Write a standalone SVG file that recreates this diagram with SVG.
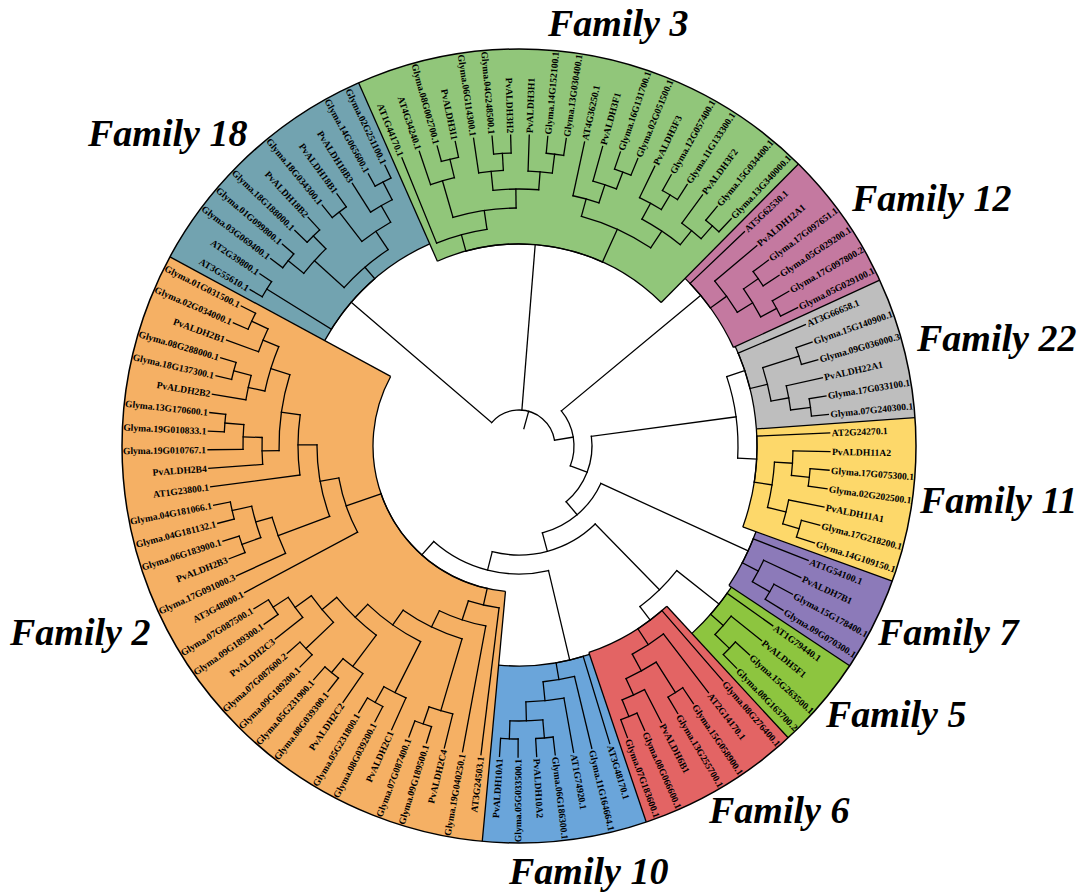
<svg xmlns="http://www.w3.org/2000/svg" width="1078" height="893" viewBox="0 0 1078 893">
<defs>
<style>
.sec circle{fill:none}
.bd{fill:none;stroke:#000;stroke-width:1.3}
.cn{fill:none;stroke:#000;stroke-width:1.3;stroke-linecap:square}
.lb{font-family:"Liberation Serif","Times New Roman",serif;font-size:9.6px;font-weight:bold;fill:#000}
.lb .n{text-anchor:end}
.t{font-family:"Liberation Serif","Times New Roman",serif;font-size:38px;font-weight:bold;font-style:italic;fill:#000}
</style>
<clipPath id="cl"><circle r="397"/></clipPath>
</defs>
<rect width="1078" height="893" fill="#fff"/>
<g transform="translate(519,446)">
<g id="sectors" class="sec">
<circle id="sector-11" r="317.5" stroke="#FDD86A" stroke-width="159" pathLength="360" stroke-dasharray="24.1 360" transform="rotate(-4.11)"/>
<circle id="sector-7" r="324.5" stroke="#8C7AB9" stroke-width="145" pathLength="360" stroke-dasharray="13.8 360" transform="rotate(19.89)"/>
<circle id="sector-5" r="326" stroke="#8DC53F" stroke-width="142" pathLength="360" stroke-dasharray="13.8 360" transform="rotate(33.6)"/>
<circle id="sector-6" r="307.5" stroke="#E36464" stroke-width="179" pathLength="360" stroke-dasharray="24.1 360" transform="rotate(47.31)"/>
<circle id="sector-10" r="308.5" stroke="#6AA5DA" stroke-width="177" pathLength="360" stroke-dasharray="24.1 360" transform="rotate(71.31)"/>
<circle id="sector-2" r="271.5" stroke="#F5B064" stroke-width="251" pathLength="360" stroke-dasharray="113.25 360" transform="rotate(95.31)"/>
<circle id="sector-18" r="309" stroke="#72A3B0" stroke-width="176" pathLength="360" stroke-dasharray="37.8 360" transform="rotate(208.46)"/>
<circle id="sector-3" r="299.5" stroke="#91C67A" stroke-width="195" pathLength="360" stroke-dasharray="68.65 360" transform="rotate(246.17)"/>
<circle id="sector-12" r="316.5" stroke="#C479A0" stroke-width="161" pathLength="360" stroke-dasharray="20.65 360" transform="rotate(314.74)"/>
<circle id="sector-22" r="317.5" stroke="#BEBEBE" stroke-width="159" pathLength="360" stroke-dasharray="20.65 360" transform="rotate(335.31)"/>
</g>
<g id="sector-borders" class="bd">
<circle r="238" pathLength="360" stroke-dasharray="24 360" transform="rotate(-4.11)"/>
<circle r="252" pathLength="360" stroke-dasharray="13.71 360" transform="rotate(19.89)"/>
<circle r="255" pathLength="360" stroke-dasharray="13.71 360" transform="rotate(33.6)"/>
<circle r="218" pathLength="360" stroke-dasharray="24 360" transform="rotate(47.31)"/>
<circle r="220" pathLength="360" stroke-dasharray="24 360" transform="rotate(71.31)"/>
<circle r="146" pathLength="360" stroke-dasharray="113.15 360" transform="rotate(95.31)"/>
<circle r="221" pathLength="360" stroke-dasharray="37.71 360" transform="rotate(208.46)"/>
<circle r="202" pathLength="360" stroke-dasharray="68.57 360" transform="rotate(246.17)"/>
<circle r="236" pathLength="360" stroke-dasharray="20.57 360" transform="rotate(314.74)"/>
<circle r="238" pathLength="360" stroke-dasharray="20.57 360" transform="rotate(335.31)"/>
<circle r="397" stroke-width="1.5"/>
<path d="M238 0H397" transform="rotate(-4.11)"/>
<path d="M238 0H397" transform="rotate(19.89)"/>
<path d="M252 0H397" transform="rotate(33.6)"/>
<path d="M218 0H397" transform="rotate(47.31)"/>
<path d="M218 0H397" transform="rotate(71.31)"/>
<path d="M146 0H397" transform="rotate(95.31)"/>
<path d="M146 0H397" transform="rotate(208.46)"/>
<path d="M202 0H397" transform="rotate(246.17)"/>
<path d="M202 0H397" transform="rotate(314.74)"/>
<path d="M236 0H397" transform="rotate(335.31)"/>
</g>
<g id="connectors" class="cn">
<path d="M18 0H36" transform="rotate(285.6)"/>
<circle r="36" pathLength="360" stroke-dasharray="130.13 360" transform="rotate(220.57)"/>
<path d="M36 0H221" transform="rotate(220.57)"/>
<path d="M36 0H202" transform="rotate(274.6)"/>
<path d="M36 0H55" transform="rotate(350.7)"/>
<circle r="55" pathLength="360" stroke-dasharray="60.73 360" transform="rotate(-39.67)"/>
<path d="M55 0H236" transform="rotate(-39.67)"/>
<path d="M55 0H73" transform="rotate(21.06)"/>
<circle r="73" pathLength="360" stroke-dasharray="57.42 360" transform="rotate(-7.65)"/>
<path d="M73 0H219" transform="rotate(-7.65)"/>
<circle r="219" pathLength="360" stroke-dasharray="21.64 360" transform="rotate(-18.47)"/>
<path d="M219 0H238" transform="rotate(-18.47)"/>
<path d="M219 0H238" transform="rotate(3.17)"/>
<path d="M73 0H90" transform="rotate(49.77)"/>
<circle r="90" pathLength="360" stroke-dasharray="50.33 360" transform="rotate(24.6)"/>
<path d="M90 0H252" transform="rotate(24.6)"/>
<path d="M90 0H109" transform="rotate(74.93)"/>
<circle r="109" pathLength="360" stroke-dasharray="58.56 360" transform="rotate(45.65)"/>
<path d="M109 0H201" transform="rotate(45.65)"/>
<circle r="201" pathLength="360" stroke-dasharray="14.7 360" transform="rotate(38.3)"/>
<path d="M201 0H255" transform="rotate(38.3)"/>
<path d="M201 0H218" transform="rotate(53)"/>
<path d="M109 0H128" transform="rotate(104.21)"/>
<circle r="128" pathLength="360" stroke-dasharray="55.08 360" transform="rotate(76.67)"/>
<path d="M128 0H220" transform="rotate(76.67)"/>
<path d="M128 0H146" transform="rotate(131.75)"/>
<!-- family 11 -->
<circle r="238" pathLength="360" stroke-dasharray="11.14 360" transform="rotate(-2.4)"/>
<path d="M238 0H256" transform="rotate(8.74)"/>
<circle r="256" pathLength="360" stroke-dasharray="10.28 360" transform="rotate(3.6)"/>
<path d="M256 0H274" transform="rotate(3.6)"/>
<circle r="274" pathLength="360" stroke-dasharray="5.15 360" transform="rotate(1.03)"/>
<path d="M274 0H292" transform="rotate(6.17)"/>
<circle r="292" pathLength="360" stroke-dasharray="3.43 360" transform="rotate(4.46)"/>
<path d="M256 0H275" transform="rotate(13.88)"/>
<circle r="275" pathLength="360" stroke-dasharray="5.15 360" transform="rotate(11.31)"/>
<path d="M275 0H292" transform="rotate(16.45)"/>
<circle r="292" pathLength="360" stroke-dasharray="3.43 360" transform="rotate(14.74)"/>
<path d="M238 0H311" transform="rotate(-2.4)"/>
<path d="M274 0H311" transform="rotate(1.03)"/>
<path d="M292 0H311" transform="rotate(4.46)"/>
<path d="M292 0H311" transform="rotate(7.89)"/>
<path d="M275 0H311" transform="rotate(11.31)"/>
<path d="M292 0H311" transform="rotate(14.74)"/>
<path d="M292 0H311" transform="rotate(18.17)"/>
<!-- family 7 -->
<circle r="252" pathLength="360" stroke-dasharray="6 360" transform="rotate(21.6)"/>
<path d="M252 0H270" transform="rotate(27.6)"/>
<circle r="270" pathLength="360" stroke-dasharray="5.14 360" transform="rotate(25.03)"/>
<path d="M270 0H290" transform="rotate(30.17)"/>
<circle r="290" pathLength="360" stroke-dasharray="3.43 360" transform="rotate(28.46)"/>
<path d="M252 0H311" transform="rotate(21.6)"/>
<path d="M270 0H311" transform="rotate(25.03)"/>
<path d="M290 0H311" transform="rotate(28.46)"/>
<path d="M290 0H311" transform="rotate(31.89)"/>
<!-- family 5 -->
<circle r="255" pathLength="360" stroke-dasharray="5.99 360" transform="rotate(35.31)"/>
<path d="M255 0H272" transform="rotate(41.3)"/>
<circle r="272" pathLength="360" stroke-dasharray="5.15 360" transform="rotate(38.74)"/>
<path d="M272 0H292" transform="rotate(43.89)"/>
<circle r="292" pathLength="360" stroke-dasharray="3.43 360" transform="rotate(42.17)"/>
<path d="M255 0H311" transform="rotate(35.31)"/>
<path d="M272 0H311" transform="rotate(38.74)"/>
<path d="M292 0H311" transform="rotate(42.17)"/>
<path d="M292 0H311" transform="rotate(45.6)"/>
<!-- family 6 -->
<circle r="218" pathLength="360" stroke-dasharray="7.93 360" transform="rotate(49.03)"/>
<path d="M218 0H237" transform="rotate(56.96)"/>
<circle r="237" pathLength="360" stroke-dasharray="8.99 360" transform="rotate(52.46)"/>
<path d="M237 0H256" transform="rotate(61.45)"/>
<circle r="256" pathLength="360" stroke-dasharray="7.7 360" transform="rotate(57.6)"/>
<path d="M256 0H292" transform="rotate(57.6)"/>
<circle r="292" pathLength="360" stroke-dasharray="3.42 360" transform="rotate(55.89)"/>
<path d="M256 0H274" transform="rotate(65.3)"/>
<circle r="274" pathLength="360" stroke-dasharray="5.15 360" transform="rotate(62.74)"/>
<path d="M274 0H292" transform="rotate(67.89)"/>
<circle r="292" pathLength="360" stroke-dasharray="3.43 360" transform="rotate(66.17)"/>
<path d="M218 0H311" transform="rotate(49.03)"/>
<path d="M237 0H311" transform="rotate(52.46)"/>
<path d="M292 0H311" transform="rotate(55.89)"/>
<path d="M292 0H311" transform="rotate(59.31)"/>
<path d="M274 0H311" transform="rotate(62.74)"/>
<path d="M292 0H311" transform="rotate(66.17)"/>
<path d="M292 0H311" transform="rotate(69.6)"/>
<!-- family 10 -->
<circle r="220" pathLength="360" stroke-dasharray="7.27 360" transform="rotate(73.03)"/>
<path d="M220 0H237" transform="rotate(80.3)"/>
<circle r="237" pathLength="360" stroke-dasharray="7.71 360" transform="rotate(76.46)"/>
<path d="M237 0H256" transform="rotate(84.17)"/>
<circle r="256" pathLength="360" stroke-dasharray="8.57 360" transform="rotate(79.89)"/>
<path d="M256 0H275" transform="rotate(88.46)"/>
<circle r="275" pathLength="360" stroke-dasharray="6.86 360" transform="rotate(85.03)"/>
<path d="M275 0H293" transform="rotate(85.03)"/>
<circle r="293" pathLength="360" stroke-dasharray="3.43 360" transform="rotate(83.31)"/>
<path d="M275 0H293" transform="rotate(91.89)"/>
<circle r="293" pathLength="360" stroke-dasharray="3.43 360" transform="rotate(90.17)"/>
<path d="M220 0H311" transform="rotate(73.03)"/>
<path d="M237 0H311" transform="rotate(76.46)"/>
<path d="M256 0H311" transform="rotate(79.89)"/>
<path d="M293 0H311" transform="rotate(83.31)"/>
<path d="M293 0H311" transform="rotate(86.74)"/>
<path d="M293 0H311" transform="rotate(90.17)"/>
<path d="M293 0H311" transform="rotate(93.6)"/>
<!-- family 2 -->
<circle r="146" pathLength="360" stroke-dasharray="58.3 360" transform="rotate(102.6)"/>
<path d="M146 0H163" transform="rotate(102.6)"/>
<circle r="163" pathLength="360" stroke-dasharray="11.07 360" transform="rotate(97.03)"/>
<path d="M163 0H183" transform="rotate(108.1)"/>
<circle r="183" pathLength="360" stroke-dasharray="15.34 360" transform="rotate(100.46)"/>
<path d="M183 0H201" transform="rotate(115.8)"/>
<circle r="201" pathLength="360" stroke-dasharray="18.74 360" transform="rotate(106.46)"/>
<path d="M201 0H276" transform="rotate(106.46)"/>
<circle r="276" pathLength="360" stroke-dasharray="5.14 360" transform="rotate(103.89)"/>
<path d="M276 0H294" transform="rotate(109.03)"/>
<circle r="294" pathLength="360" stroke-dasharray="3.43 360" transform="rotate(107.31)"/>
<path d="M201 0H219" transform="rotate(125.2)"/>
<circle r="219" pathLength="360" stroke-dasharray="17 360" transform="rotate(116.7)"/>
<path d="M219 0H276" transform="rotate(116.7)"/>
<circle r="276" pathLength="360" stroke-dasharray="5.13 360" transform="rotate(114.17)"/>
<path d="M276 0H294" transform="rotate(119.3)"/>
<circle r="294" pathLength="360" stroke-dasharray="3.43 360" transform="rotate(117.6)"/>
<path d="M219 0H237" transform="rotate(133.7)"/>
<circle r="237" pathLength="360" stroke-dasharray="13.27 360" transform="rotate(127.03)"/>
<path d="M237 0H276" transform="rotate(127.03)"/>
<circle r="276" pathLength="360" stroke-dasharray="5.14 360" transform="rotate(124.46)"/>
<path d="M276 0H294" transform="rotate(129.6)"/>
<circle r="294" pathLength="360" stroke-dasharray="3.42 360" transform="rotate(127.89)"/>
<path d="M237 0H256" transform="rotate(140.3)"/>
<circle r="256" pathLength="360" stroke-dasharray="7.74 360" transform="rotate(136.46)"/>
<path d="M256 0H294" transform="rotate(136.46)"/>
<circle r="294" pathLength="360" stroke-dasharray="3.43 360" transform="rotate(134.74)"/>
<path d="M256 0H276" transform="rotate(144.2)"/>
<circle r="276" pathLength="360" stroke-dasharray="5.15 360" transform="rotate(141.6)"/>
<path d="M276 0H294" transform="rotate(146.75)"/>
<circle r="294" pathLength="360" stroke-dasharray="3.43 360" transform="rotate(145.03)"/>
<path d="M146 0H183" transform="rotate(160.9)"/>
<circle r="183" pathLength="360" stroke-dasharray="18.06 360" transform="rotate(151.89)"/>
<path d="M183 0H202" transform="rotate(169.95)"/>
<circle r="202" pathLength="360" stroke-dasharray="20.7 360" transform="rotate(159.6)"/>
<path d="M202 0H257" transform="rotate(159.6)"/>
<circle r="257" pathLength="360" stroke-dasharray="8.59 360" transform="rotate(155.31)"/>
<path d="M257 0H274" transform="rotate(163.9)"/>
<circle r="274" pathLength="360" stroke-dasharray="6.85 360" transform="rotate(160.46)"/>
<path d="M274 0H294" transform="rotate(160.46)"/>
<circle r="294" pathLength="360" stroke-dasharray="3.43 360" transform="rotate(158.74)"/>
<path d="M274 0H294" transform="rotate(167.31)"/>
<circle r="294" pathLength="360" stroke-dasharray="3.43 360" transform="rotate(165.6)"/>
<path d="M202 0H221" transform="rotate(180.3)"/>
<circle r="221" pathLength="360" stroke-dasharray="15.64 360" transform="rotate(172.46)"/>
<path d="M221 0H240" transform="rotate(188.1)"/>
<circle r="240" pathLength="360" stroke-dasharray="18.4 360" transform="rotate(178.9)"/>
<path d="M240 0H257" transform="rotate(178.9)"/>
<circle r="257" pathLength="360" stroke-dasharray="6.01 360" transform="rotate(175.89)"/>
<path d="M257 0H276" transform="rotate(181.9)"/>
<circle r="276" pathLength="360" stroke-dasharray="5.15 360" transform="rotate(179.31)"/>
<path d="M276 0H295" transform="rotate(184.46)"/>
<circle r="295" pathLength="360" stroke-dasharray="3.43 360" transform="rotate(182.74)"/>
<path d="M240 0H260" transform="rotate(197.3)"/>
<circle r="260" pathLength="360" stroke-dasharray="10.26 360" transform="rotate(192.2)"/>
<path d="M260 0H277" transform="rotate(192.2)"/>
<circle r="277" pathLength="360" stroke-dasharray="5.15 360" transform="rotate(189.6)"/>
<path d="M277 0H295" transform="rotate(194.75)"/>
<circle r="295" pathLength="360" stroke-dasharray="3.43 360" transform="rotate(193.03)"/>
<path d="M260 0H277" transform="rotate(202.46)"/>
<circle r="277" pathLength="360" stroke-dasharray="5.14 360" transform="rotate(199.89)"/>
<path d="M277 0H295" transform="rotate(205.03)"/>
<circle r="295" pathLength="360" stroke-dasharray="3.43 360" transform="rotate(203.31)"/>
<path d="M163 0H311" transform="rotate(97.03)"/>
<path d="M183 0H311" transform="rotate(100.46)"/>
<path d="M276 0H311" transform="rotate(103.89)"/>
<path d="M294 0H311" transform="rotate(107.31)"/>
<path d="M294 0H311" transform="rotate(110.74)"/>
<path d="M276 0H311" transform="rotate(114.17)"/>
<path d="M294 0H311" transform="rotate(117.6)"/>
<path d="M294 0H311" transform="rotate(121.03)"/>
<path d="M276 0H311" transform="rotate(124.46)"/>
<path d="M294 0H311" transform="rotate(127.89)"/>
<path d="M294 0H311" transform="rotate(131.31)"/>
<path d="M294 0H311" transform="rotate(134.74)"/>
<path d="M294 0H311" transform="rotate(138.17)"/>
<path d="M276 0H311" transform="rotate(141.6)"/>
<path d="M294 0H311" transform="rotate(145.03)"/>
<path d="M294 0H311" transform="rotate(148.46)"/>
<path d="M183 0H311" transform="rotate(151.89)"/>
<path d="M257 0H311" transform="rotate(155.31)"/>
<path d="M294 0H311" transform="rotate(158.74)"/>
<path d="M294 0H311" transform="rotate(162.17)"/>
<path d="M294 0H311" transform="rotate(165.6)"/>
<path d="M294 0H311" transform="rotate(169.03)"/>
<path d="M221 0H311" transform="rotate(172.46)"/>
<path d="M257 0H311" transform="rotate(175.89)"/>
<path d="M276 0H311" transform="rotate(179.31)"/>
<path d="M295 0H311" transform="rotate(182.74)"/>
<path d="M295 0H311" transform="rotate(186.17)"/>
<path d="M277 0H311" transform="rotate(189.6)"/>
<path d="M295 0H311" transform="rotate(193.03)"/>
<path d="M295 0H311" transform="rotate(196.46)"/>
<path d="M277 0H311" transform="rotate(199.89)"/>
<path d="M295 0H311" transform="rotate(203.31)"/>
<path d="M295 0H311" transform="rotate(206.74)"/>
<!-- family 18 -->
<circle r="221" pathLength="360" stroke-dasharray="17.35 360" transform="rotate(211.89)"/>
<path d="M221 0H297" transform="rotate(211.89)"/>
<circle r="297" pathLength="360" stroke-dasharray="3.43 360" transform="rotate(210.17)"/>
<path d="M221 0H236" transform="rotate(229.24)"/>
<circle r="236" pathLength="360" stroke-dasharray="14.14 360" transform="rotate(222.17)"/>
<path d="M236 0H276" transform="rotate(222.17)"/>
<circle r="276" pathLength="360" stroke-dasharray="6.86 360" transform="rotate(218.74)"/>
<path d="M276 0H296" transform="rotate(218.74)"/>
<circle r="296" pathLength="360" stroke-dasharray="3.43 360" transform="rotate(217.03)"/>
<path d="M276 0H294" transform="rotate(225.6)"/>
<circle r="294" pathLength="360" stroke-dasharray="3.42 360" transform="rotate(223.89)"/>
<path d="M236 0H258" transform="rotate(236.31)"/>
<circle r="258" pathLength="360" stroke-dasharray="7.71 360" transform="rotate(232.46)"/>
<path d="M258 0H295" transform="rotate(232.46)"/>
<circle r="295" pathLength="360" stroke-dasharray="3.43 360" transform="rotate(230.74)"/>
<path d="M258 0H277" transform="rotate(240.17)"/>
<circle r="277" pathLength="360" stroke-dasharray="5.14 360" transform="rotate(237.6)"/>
<path d="M277 0H297" transform="rotate(242.74)"/>
<circle r="297" pathLength="360" stroke-dasharray="3.43 360" transform="rotate(241.03)"/>
<path d="M297 0H311" transform="rotate(210.17)"/>
<path d="M297 0H311" transform="rotate(213.6)"/>
<path d="M296 0H311" transform="rotate(217.03)"/>
<path d="M296 0H311" transform="rotate(220.46)"/>
<path d="M294 0H311" transform="rotate(223.89)"/>
<path d="M294 0H311" transform="rotate(227.31)"/>
<path d="M295 0H311" transform="rotate(230.74)"/>
<path d="M295 0H311" transform="rotate(234.17)"/>
<path d="M277 0H311" transform="rotate(237.6)"/>
<path d="M297 0H311" transform="rotate(241.03)"/>
<path d="M297 0H311" transform="rotate(244.46)"/>
<!-- family 3 -->
<circle r="202" pathLength="360" stroke-dasharray="39.65 360" transform="rotate(254.75)"/>
<path d="M202 0H219" transform="rotate(254.75)"/>
<circle r="219" pathLength="360" stroke-dasharray="13.71 360" transform="rotate(247.89)"/>
<path d="M219 0H238" transform="rotate(261.6)"/>
<circle r="238" pathLength="360" stroke-dasharray="15.4 360" transform="rotate(253.9)"/>
<path d="M238 0H276" transform="rotate(253.9)"/>
<circle r="276" pathLength="360" stroke-dasharray="5.15 360" transform="rotate(251.31)"/>
<path d="M276 0H295" transform="rotate(256.46)"/>
<circle r="295" pathLength="360" stroke-dasharray="3.43 360" transform="rotate(254.74)"/>
<path d="M238 0H257" transform="rotate(269.3)"/>
<circle r="257" pathLength="360" stroke-dasharray="10.2 360" transform="rotate(264.2)"/>
<path d="M257 0H276" transform="rotate(264.2)"/>
<circle r="276" pathLength="360" stroke-dasharray="5.15 360" transform="rotate(261.6)"/>
<path d="M276 0H293" transform="rotate(266.75)"/>
<circle r="293" pathLength="360" stroke-dasharray="3.43 360" transform="rotate(265.03)"/>
<path d="M257 0H275" transform="rotate(274.4)"/>
<circle r="275" pathLength="360" stroke-dasharray="5.07 360" transform="rotate(271.89)"/>
<path d="M275 0H294" transform="rotate(276.96)"/>
<circle r="294" pathLength="360" stroke-dasharray="3.43 360" transform="rotate(275.31)"/>
<path d="M202 0H238" transform="rotate(294.4)"/>
<circle r="238" pathLength="360" stroke-dasharray="18.4 360" transform="rotate(285.2)"/>
<path d="M238 0H256" transform="rotate(285.2)"/>
<circle r="256" pathLength="360" stroke-dasharray="6.03 360" transform="rotate(282.17)"/>
<path d="M256 0H275" transform="rotate(288.2)"/>
<circle r="275" pathLength="360" stroke-dasharray="5.15 360" transform="rotate(285.6)"/>
<path d="M275 0H293" transform="rotate(290.75)"/>
<circle r="293" pathLength="360" stroke-dasharray="3.43 360" transform="rotate(289.03)"/>
<path d="M238 0H258" transform="rotate(303.6)"/>
<circle r="258" pathLength="360" stroke-dasharray="10.24 360" transform="rotate(298.46)"/>
<path d="M258 0H276" transform="rotate(298.46)"/>
<circle r="276" pathLength="360" stroke-dasharray="5.14 360" transform="rotate(295.89)"/>
<path d="M276 0H293" transform="rotate(301.03)"/>
<circle r="293" pathLength="360" stroke-dasharray="3.43 360" transform="rotate(299.31)"/>
<path d="M258 0H276" transform="rotate(308.7)"/>
<circle r="276" pathLength="360" stroke-dasharray="5.13 360" transform="rotate(306.17)"/>
<path d="M276 0H293" transform="rotate(311.3)"/>
<circle r="293" pathLength="360" stroke-dasharray="3.43 360" transform="rotate(309.6)"/>
<path d="M219 0H311" transform="rotate(247.89)"/>
<path d="M276 0H311" transform="rotate(251.31)"/>
<path d="M295 0H311" transform="rotate(254.74)"/>
<path d="M295 0H311" transform="rotate(258.17)"/>
<path d="M276 0H311" transform="rotate(261.6)"/>
<path d="M293 0H311" transform="rotate(265.03)"/>
<path d="M293 0H311" transform="rotate(268.46)"/>
<path d="M275 0H311" transform="rotate(271.89)"/>
<path d="M294 0H311" transform="rotate(275.31)"/>
<path d="M294 0H311" transform="rotate(278.74)"/>
<path d="M256 0H311" transform="rotate(282.17)"/>
<path d="M275 0H311" transform="rotate(285.6)"/>
<path d="M293 0H311" transform="rotate(289.03)"/>
<path d="M293 0H311" transform="rotate(292.46)"/>
<path d="M276 0H311" transform="rotate(295.89)"/>
<path d="M293 0H311" transform="rotate(299.31)"/>
<path d="M293 0H311" transform="rotate(302.74)"/>
<path d="M276 0H311" transform="rotate(306.17)"/>
<path d="M293 0H311" transform="rotate(309.6)"/>
<path d="M293 0H311" transform="rotate(313.03)"/>
<!-- family 12 -->
<circle r="236" pathLength="360" stroke-dasharray="7.74 360" transform="rotate(-43.54)"/>
<path d="M236 0H256" transform="rotate(-35.8)"/>
<circle r="256" pathLength="360" stroke-dasharray="8.61 360" transform="rotate(-40.11)"/>
<path d="M256 0H274" transform="rotate(-31.5)"/>
<circle r="274" pathLength="360" stroke-dasharray="6.87 360" transform="rotate(-34.97)"/>
<path d="M274 0H292" transform="rotate(-34.97)"/>
<circle r="292" pathLength="360" stroke-dasharray="3.43 360" transform="rotate(-36.69)"/>
<path d="M274 0H292" transform="rotate(-28.1)"/>
<circle r="292" pathLength="360" stroke-dasharray="3.43 360" transform="rotate(-29.83)"/>
<path d="M236 0H311" transform="rotate(-43.54)"/>
<path d="M256 0H311" transform="rotate(-40.11)"/>
<path d="M292 0H311" transform="rotate(-36.69)"/>
<path d="M292 0H311" transform="rotate(-33.26)"/>
<path d="M292 0H311" transform="rotate(-29.83)"/>
<path d="M292 0H311" transform="rotate(-26.4)"/>
<!-- family 22 -->
<circle r="238" pathLength="360" stroke-dasharray="9 360" transform="rotate(-22.97)"/>
<path d="M238 0H256" transform="rotate(-13.97)"/>
<circle r="256" pathLength="360" stroke-dasharray="7.71 360" transform="rotate(-17.83)"/>
<path d="M256 0H294" transform="rotate(-17.83)"/>
<circle r="294" pathLength="360" stroke-dasharray="3.43 360" transform="rotate(-19.54)"/>
<path d="M256 0H274" transform="rotate(-10.12)"/>
<circle r="274" pathLength="360" stroke-dasharray="5.14 360" transform="rotate(-12.69)"/>
<path d="M274 0H294" transform="rotate(-7.55)"/>
<circle r="294" pathLength="360" stroke-dasharray="3.43 360" transform="rotate(-9.26)"/>
<path d="M238 0H311" transform="rotate(-22.97)"/>
<path d="M294 0H311" transform="rotate(-19.54)"/>
<path d="M294 0H311" transform="rotate(-16.11)"/>
<path d="M274 0H311" transform="rotate(-12.69)"/>
<path d="M294 0H311" transform="rotate(-9.26)"/>
<path d="M294 0H311" transform="rotate(-5.83)"/>
</g>
<g id="family-11" class="lb">
<text class="t" x="401" y="67">Family 11</text>
<g clip-path="url(#cl)">
<text transform="rotate(-2.4)" x="313" y="3.4">AT2G24270.1</text>
<text transform="rotate(1.03)" x="313" y="3.4">PvALDH11A2</text>
<text transform="rotate(4.46)" x="313" y="3.4">Glyma.17G075300.1</text>
<text transform="rotate(7.89)" x="313" y="3.4">Glyma.02G202500.1</text>
<text transform="rotate(11.31)" x="313" y="3.4">PvALDH11A1</text>
<text transform="rotate(14.74)" x="313" y="3.4">Glyma.17G218200.1</text>
<text transform="rotate(18.17)" x="313" y="3.4">Glyma.14G109150.1</text>
</g></g>
<g id="family-7" class="lb">
<text class="t" x="359" y="199">Family 7</text>
<g clip-path="url(#cl)">
<text transform="rotate(21.6)" x="313" y="3.4">AT1G54100.1</text>
<text transform="rotate(25.03)" x="313" y="3.4">PvALDH7B1</text>
<text transform="rotate(28.46)" x="313" y="3.4">Glyma.15G178400.1</text>
<text transform="rotate(31.89)" x="313" y="3.4">Glyma.09G070300.1</text>
</g></g>
<g id="family-5" class="lb">
<text class="t" x="307" y="281">Family 5</text>
<g clip-path="url(#cl)">
<text transform="rotate(35.31)" x="313" y="3.4">AT1G79440.1</text>
<text transform="rotate(38.74)" x="313" y="3.4">PvALDH5F1</text>
<text transform="rotate(42.17)" x="313" y="3.4">Glyma.15G263500.1</text>
<text transform="rotate(45.6)" x="313" y="3.4">Glyma.08G163700.2</text>
</g></g>
<g id="family-6" class="lb">
<text class="t" x="190" y="377">Family 6</text>
<g clip-path="url(#cl)">
<text transform="rotate(49.03)" x="313" y="3.4">Glyma.08G276400.1</text>
<text transform="rotate(52.46)" x="313" y="3.4">AT2G14170.1</text>
<text transform="rotate(55.89)" x="313" y="3.4">Glyma.15G058900.1</text>
<text transform="rotate(59.31)" x="313" y="3.4">Glyma.13G255700.1</text>
<text transform="rotate(62.74)" x="313" y="3.4">PvALDH6B1</text>
<text transform="rotate(66.17)" x="313" y="3.4">Glyma.08G066600.1</text>
<text transform="rotate(69.6)" x="313" y="3.4">Glyma.07G183600.1</text>
</g></g>
<g id="family-10" class="lb">
<text class="t" x="-10" y="438">Family 10</text>
<g clip-path="url(#cl)">
<text transform="rotate(73.03)" x="313" y="3.4">AT3G48170.1</text>
<text transform="rotate(76.46)" x="313" y="3.4">Glyma.11G164664.1</text>
<text transform="rotate(79.89)" x="313" y="3.4">AT1G74920.1</text>
<text transform="rotate(83.31)" x="313" y="3.4">Glyma.06G186300.1</text>
<text transform="rotate(86.74)" x="313" y="3.4">PvALDH10A2</text>
<text class="n" transform="rotate(-89.83)" x="-313" y="3.4">Glyma.05G033500.1</text>
<text class="n" transform="rotate(-86.4)" x="-313" y="3.4">PvALDH10A1</text>
</g></g>
<g id="family-2" class="lb">
<text class="t" x="-509" y="199">Family 2</text>
<g clip-path="url(#cl)">
<text class="n" transform="rotate(-82.97)" x="-313" y="3.4">AT3G24503.1</text>
<text class="n" transform="rotate(-79.54)" x="-313" y="3.4">Glyma.19G040250.1</text>
<text class="n" transform="rotate(-76.11)" x="-313" y="3.4">PvALDH2C4</text>
<text class="n" transform="rotate(-72.69)" x="-313" y="3.4">Glyma.09G189500.1</text>
<text class="n" transform="rotate(-69.26)" x="-313" y="3.4">Glyma.07G087400.1</text>
<text class="n" transform="rotate(-65.83)" x="-313" y="3.4">PvALDH2C1</text>
<text class="n" transform="rotate(-62.4)" x="-313" y="3.4">Glyma.08G039200.1</text>
<text class="n" transform="rotate(-58.97)" x="-313" y="3.4">Glyma.05G231800.1</text>
<text class="n" transform="rotate(-55.54)" x="-313" y="3.4">PvALDH2C2</text>
<text class="n" transform="rotate(-52.11)" x="-313" y="3.4">Glyma.08G039300.1</text>
<text class="n" transform="rotate(-48.69)" x="-313" y="3.4">Glyma.05G231900.1</text>
<text class="n" transform="rotate(-45.26)" x="-313" y="3.4">Glyma.09G189200.1</text>
<text class="n" transform="rotate(-41.83)" x="-313" y="3.4">Glyma.07G087600.2</text>
<text class="n" transform="rotate(-38.4)" x="-313" y="3.4">PvALDH2C3</text>
<text class="n" transform="rotate(-34.97)" x="-313" y="3.4">Glyma.09G189300.1</text>
<text class="n" transform="rotate(-31.54)" x="-313" y="3.4">Glyma.07G087500.1</text>
<text class="n" transform="rotate(-28.11)" x="-313" y="3.4">AT3G48000.1</text>
<text class="n" transform="rotate(-24.69)" x="-313" y="3.4">Glyma.17G091000.3</text>
<text class="n" transform="rotate(-21.26)" x="-313" y="3.4">PvALDH2B3</text>
<text class="n" transform="rotate(-17.83)" x="-313" y="3.4">Glyma.06G183900.1</text>
<text class="n" transform="rotate(-14.4)" x="-313" y="3.4">Glyma.04G181132.1</text>
<text class="n" transform="rotate(-10.97)" x="-313" y="3.4">Glyma.04G181066.1</text>
<text class="n" transform="rotate(-7.54)" x="-313" y="3.4">AT1G23800.1</text>
<text class="n" transform="rotate(-4.11)" x="-313" y="3.4">PvALDH2B4</text>
<text class="n" transform="rotate(-0.69)" x="-313" y="3.4">Glyma.19G010767.1</text>
<text class="n" transform="rotate(2.74)" x="-313" y="3.4">Glyma.19G010833.1</text>
<text class="n" transform="rotate(6.17)" x="-313" y="3.4">Glyma.13G170600.1</text>
<text class="n" transform="rotate(9.6)" x="-313" y="3.4">PvALDH2B2</text>
<text class="n" transform="rotate(13.03)" x="-313" y="3.4">Glyma.18G137300.1</text>
<text class="n" transform="rotate(16.46)" x="-313" y="3.4">Glyma.08G288000.1</text>
<text class="n" transform="rotate(19.89)" x="-313" y="3.4">PvALDH2B1</text>
<text class="n" transform="rotate(23.31)" x="-313" y="3.4">Glyma.02G034000.1</text>
<text class="n" transform="rotate(26.74)" x="-313" y="3.4">Glyma.01G031500.1</text>
</g></g>
<g id="family-18" class="lb">
<text class="t" x="-431" y="-300">Family 18</text>
<g clip-path="url(#cl)">
<text class="n" transform="rotate(30.17)" x="-313" y="3.4">AT3G55610.1</text>
<text class="n" transform="rotate(33.6)" x="-313" y="3.4">AT2G39800.1</text>
<text class="n" transform="rotate(37.03)" x="-313" y="3.4">Glyma.03G069400.1</text>
<text class="n" transform="rotate(40.46)" x="-313" y="3.4">Glyma.01G099800.1</text>
<text class="n" transform="rotate(43.89)" x="-313" y="3.4">Glyma.18G188000.1</text>
<text class="n" transform="rotate(47.31)" x="-313" y="3.4">PvALDH18B2</text>
<text class="n" transform="rotate(50.74)" x="-313" y="3.4">Glyma.18G034300.1</text>
<text class="n" transform="rotate(54.17)" x="-313" y="3.4">PvALDH18B1</text>
<text class="n" transform="rotate(57.6)" x="-313" y="3.4">PvALDH18B3</text>
<text class="n" transform="rotate(61.03)" x="-313" y="3.4">Glyma.14G065600.1</text>
<text class="n" transform="rotate(64.46)" x="-313" y="3.4">Glyma.02G251100.1</text>
</g></g>
<g id="family-3" class="lb">
<text class="t" x="29" y="-410">Family 3</text>
<g clip-path="url(#cl)">
<text class="n" transform="rotate(67.89)" x="-313" y="3.4">AT1G44170.1</text>
<text class="n" transform="rotate(71.31)" x="-313" y="3.4">AT4G34240.1</text>
<text class="n" transform="rotate(74.74)" x="-313" y="3.4">Glyma.08G002700.1</text>
<text class="n" transform="rotate(78.17)" x="-313" y="3.4">PvALDH3I1</text>
<text class="n" transform="rotate(81.6)" x="-313" y="3.4">Glyma.06G114300.1</text>
<text class="n" transform="rotate(85.03)" x="-313" y="3.4">Glyma.04G248500.1</text>
<text class="n" transform="rotate(88.46)" x="-313" y="3.4">PvALDH3H2</text>
<text transform="rotate(-88.11)" x="313" y="3.4">PvALDH3H1</text>
<text transform="rotate(-84.69)" x="313" y="3.4">Glyma.14G152100.1</text>
<text transform="rotate(-81.26)" x="313" y="3.4">Glyma.13G030400.1</text>
<text transform="rotate(-77.83)" x="313" y="3.4">AT4G36250.1</text>
<text transform="rotate(-74.4)" x="313" y="3.4">PvALDH3F1</text>
<text transform="rotate(-70.97)" x="313" y="3.4">Glyma.16G131700.1</text>
<text transform="rotate(-67.54)" x="313" y="3.4">Glyma.02G051500.1</text>
<text transform="rotate(-64.11)" x="313" y="3.4">PvALDH3F3</text>
<text transform="rotate(-60.69)" x="313" y="3.4">Glyma.12G057400.1</text>
<text transform="rotate(-57.26)" x="313" y="3.4">Glyma.11G133300.1</text>
<text transform="rotate(-53.83)" x="313" y="3.4">PvALDH3F2</text>
<text transform="rotate(-50.4)" x="313" y="3.4">Glyma.15G034400.1</text>
<text transform="rotate(-46.97)" x="313" y="3.4">Glyma.13G340000.1</text>
</g></g>
<g id="family-12" class="lb">
<text class="t" x="333" y="-235">Family 12</text>
<g clip-path="url(#cl)">
<text transform="rotate(-43.54)" x="313" y="3.4">AT5G62530.1</text>
<text transform="rotate(-40.11)" x="313" y="3.4">PvALDH12A1</text>
<text transform="rotate(-36.69)" x="313" y="3.4">Glyma.17G097651.1</text>
<text transform="rotate(-33.26)" x="313" y="3.4">Glyma.05G029200.1</text>
<text transform="rotate(-29.83)" x="313" y="3.4">Glyma.17G097800.2</text>
<text transform="rotate(-26.4)" x="313" y="3.4">Glyma.05G029100.1</text>
</g></g>
<g id="family-22" class="lb">
<text class="t" x="398" y="-95">Family 22</text>
<g clip-path="url(#cl)">
<text transform="rotate(-22.97)" x="313" y="3.4">AT3G66658.1</text>
<text transform="rotate(-19.54)" x="313" y="3.4">Glyma.15G140900.1</text>
<text transform="rotate(-16.11)" x="313" y="3.4">Glyma.09G036000.3</text>
<text transform="rotate(-12.69)" x="313" y="3.4">PvALDH22A1</text>
<text transform="rotate(-9.26)" x="313" y="3.4">Glyma.17G033100.1</text>
<text transform="rotate(-5.83)" x="313" y="3.4">Glyma.07G240300.1</text>
</g></g>
</g>
</svg>
